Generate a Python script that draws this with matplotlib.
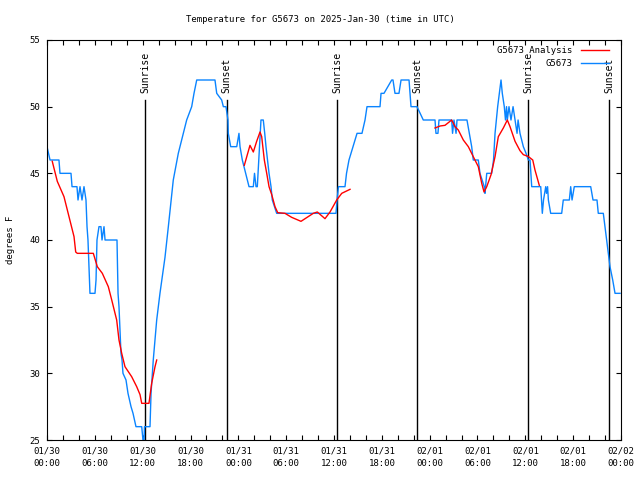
import numpy as np
import matplotlib
matplotlib.use("Agg")
import matplotlib.pyplot as plt
from matplotlib.ticker import FixedLocator, MultipleLocator

# time axis: hours since 2025-01-30 00:00 UTC
obs_hours = [0.0, 0.38, 1.5, 1.63, 3.01, 3.14, 3.76, 3.89, 4.14, 4.39, 4.64, 4.89,
             5.02, 5.14, 5.39, 6.02, 6.15, 6.27, 6.52, 6.77, 6.9, 7.15, 7.28, 8.78,
             8.91, 9.03, 9.28, 9.41, 9.53, 9.91, 10.16, 10.54, 10.79, 11.16, 11.88, 12.04,
             12.17, 12.23, 12.92, 13.05, 13.33, 13.76, 14.17, 14.8, 15.22, 15.84, 16.47, 17.1,
             17.52, 18.15, 18.44, 18.78, 21.07, 21.29, 21.91, 22.12, 22.45, 22.7, 22.74, 23.04,
             23.8, 24.08, 24.21, 24.5, 24.92, 25.34, 25.88, 26.03, 26.22, 26.38, 26.84, 27.13,
             27.31, 27.47, 27.66, 27.85, 28.1, 28.26, 28.81, 36.25, 36.38, 36.56, 37.38, 37.57,
             37.88, 38.38, 38.89, 39.51, 39.89, 40.14, 41.77, 41.9, 42.27, 43.24, 43.4, 43.65,
             44.15, 44.41, 45.41, 45.53, 45.66, 46.41, 47.2, 48.67, 48.79, 49.04, 49.17, 50.76,
             50.87, 51.05, 51.31, 51.43, 52.68, 52.97, 53.27, 53.47, 54.1, 54.31, 54.85, 54.94,
             55.16, 55.78, 56.01, 56.2, 56.53, 56.74, 56.95, 57.11, 57.36, 57.51, 57.64, 57.74,
             57.95, 58.2, 58.46, 58.71, 58.96, 59.09, 59.33, 59.75, 60.09, 60.38, 60.59, 60.8,
             61.93, 62.13, 62.28, 62.56, 62.66, 62.79, 62.89, 63.18, 64.56, 64.76, 65.52, 65.69,
             65.86, 66.14, 68.2, 68.49, 68.99, 69.15, 69.78, 69.99, 70.21, 70.41, 70.62, 70.96,
             71.25, 71.88]
obs_temp = [47, 46, 46, 45, 45, 44, 44, 43, 44, 43, 44, 43,
            41, 40, 36, 36, 37, 40, 41, 41, 40, 41, 40, 40,
            36, 35, 31.5, 31, 30, 29.5, 28.5, 27.5, 27, 26, 26, 25,
            25, 26, 26, 28.5, 31, 34, 36, 38.7, 41, 44.5, 46.5, 48,
            49, 50, 51, 52, 52, 51, 50.5, 50, 50, 49, 48, 47,
            47, 48, 47, 46, 45, 44, 44, 45, 44, 44, 49, 49,
            48, 47, 46, 45, 44, 43, 42, 42, 43, 44, 44, 45,
            46, 47, 48, 48, 49, 50, 50, 51, 51, 52, 52, 51,
            51, 52, 52, 51, 50, 50, 49, 49, 48, 48, 49, 49,
            48, 49, 48, 49, 49, 48, 47, 46, 46, 45, 44, 43.5,
            45, 45, 46, 48, 50, 51, 52, 51, 50, 49, 50, 49,
            50, 49, 50, 49, 48, 49, 48, 47, 46.5, 46, 46, 44,
            44, 42, 43, 44, 43.5, 44, 43, 42, 42, 43, 43, 44,
            43, 44, 44, 43, 43, 42, 42, 41, 40, 39, 38, 37,
            36, 36]

nan = np.nan
ana_hours = [0.66, 1.29, 2.13, 2.55, 2.97, 3.39, 3.6, 3.8, 5.81, 6.31, 6.94, 7.69,
             8.12, 8.74, 9.03, 9.37, 9.78, 10.62, 11.25, 11.67, 11.88, 12.79, 13.13, 13.55,
             13.76, 19.0,
             24.75, 25.46, 25.88, 26.3, 26.72, 26.93, 27.26, 27.56, 27.85, 28.19, 28.6, 28.94,
             29.85, 30.69, 31.86, 33.4, 33.91, 34.87, 35.5, 36.34, 36.97, 38.01, 42.0,
             48.67, 49.3, 49.92, 50.76, 51.18, 51.59, 52.22, 52.85, 53.47, 54.1, 54.53, 54.82,
             55.16, 55.7, 56.2, 56.61, 57.24, 57.74, 58.08, 58.71, 59.33, 59.75, 60.38, 60.93,
             61.21, 61.75]
ana_temp = [45.9, 44.4, 43.25, 42.25, 41.25, 40.25, 39.1, 39.0, 39.0, 38.0, 37.5, 36.5,
            35.5, 34.0, 32.5, 31.5, 30.5, 29.75, 29.0, 28.4, 27.75, 27.75, 29.25, 30.5,
            31.0, nan,
            45.6, 47.1, 46.6, 47.4, 48.1, 47.75, 46.0, 45.0, 44.0, 43.4, 42.5, 42.05,
            42.0, 41.7, 41.4, 42.0, 42.1, 41.6, 42.1, 43.0, 43.5, 43.8, nan,
            48.4, 48.55, 48.6, 49.0, 48.5, 48.25, 47.5, 47.0, 46.25, 45.5, 44.25, 43.6,
            44.0, 44.9, 46.25, 47.75, 48.4, 49.0, 48.5, 47.4, 46.7, 46.4, 46.26, 46.0,
            45.25, 44.1]

sunrise = [12.33, 36.41, 60.37]
sunset = [22.52, 46.45, 70.53]

xtick_hours = list(range(0, 73, 6))
xtick_labels = ["01/30\n00:00", "01/30\n06:00", "01/30\n12:00", "01/30\n18:00",
                "01/31\n00:00", "01/31\n06:00", "01/31\n12:00", "01/31\n18:00",
                "02/01\n00:00", "02/01\n06:00", "02/01\n12:00", "02/01\n18:00",
                "02/02\n00:00"]

plt.rcParams['font.family'] = ['DejaVu Sans Mono']
fs = 6.5

fig = plt.figure(figsize=(6.4, 4.8), dpi=100)
ax = fig.add_axes([47/640, 40/480, 574/640, 400/480])

for h in sunrise:
    ax.plot([h, h], [25, 50.5], color='black', lw=1.0)
    ax.text(h, 51.0, "Sunrise", rotation=90, ha='center', va='bottom', fontsize=7)
for h in sunset:
    ax.plot([h, h], [25, 50.5], color='black', lw=1.0)
    ax.text(h, 51.0, "Sunset", rotation=90, ha='center', va='bottom', fontsize=7)

l_obs, = ax.plot(obs_hours, obs_temp, color='#0a84ff', lw=1.0, label='G5673')
l_ana, = ax.plot(ana_hours, ana_temp, color='#ff0000', lw=1.0, label='G5673 Analysis')

ax.set_xlim(0, 72)
ax.set_ylim(25, 55)
ax.xaxis.set_major_locator(FixedLocator(xtick_hours))
ax.set_xticklabels(xtick_labels, fontsize=fs, linespacing=1.5)
ax.xaxis.set_minor_locator(MultipleLocator(2))
ax.yaxis.set_major_locator(MultipleLocator(5))
ax.tick_params(axis='both', which='both', direction='in', top=True, right=True,
               length=3.5, width=0.8, labelsize=fs)
ax.tick_params(axis='x', which='major', pad=5)
ax.tick_params(axis='y', which='major', pad=5)
for s in ax.spines.values():
    s.set_linewidth(0.8)

ax.set_ylabel("degrees F", fontsize=fs, labelpad=10)
fig.suptitle("Temperature for G5673 on 2025-Jan-30 (time in UTC)", fontsize=fs,
             x=0.5, y=1 - 20/480, va='center')

ax.legend([l_ana, l_obs], ['G5673 Analysis', 'G5673'], loc='upper right',
          bbox_to_anchor=(1 - 6/574, 1.0),
          markerfirst=False, frameon=False, fontsize=fs, handlelength=3.1,
          handletextpad=0.9, labelspacing=0.4, borderaxespad=0.3, borderpad=0.4)

fig.savefig("out.png", dpi=100)
